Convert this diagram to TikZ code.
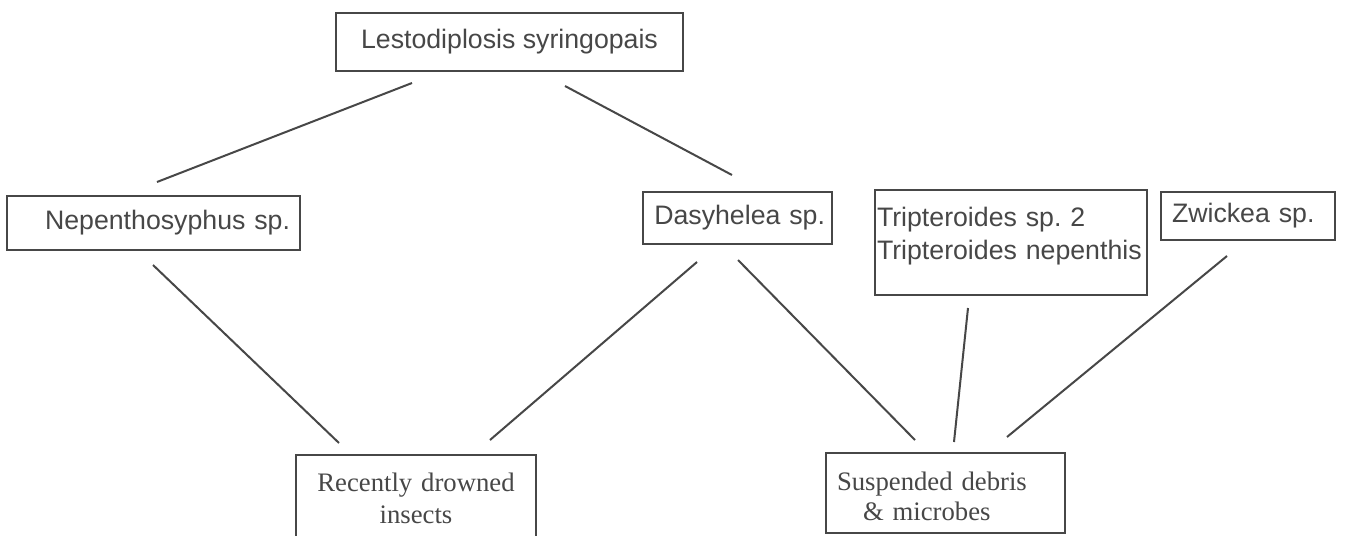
\documentclass[tikz,border=0pt]{standalone}
\usepackage{fontspec}
\setmainfont{Liberation Sans}
\newfontfamily\serifbox{Liberation Serif}
\definecolor{inkgray}{HTML}{474747}
\frenchspacing

\begin{document}
\begin{tikzpicture}[-,x=0.5pt,y=-0.5pt,line width=1pt,draw=inkgray,
    main node/.style={rectangle,draw=inkgray,text=inkgray,line width=1pt,outer sep=0pt,anchor=north west,font=\fontsize{13.35}{16.5}\selectfont},
    food node/.style={main node,inner ysep=0pt,font=\fontsize{13.35}{16}\serifbox}]

    \path[use as bounding box,clip] (0,0) rectangle (1346,536);
    \fill[white] (0,0) rectangle (1346,536);

    \node[main node, minimum width=173.5pt, minimum height=29pt] (1) at (336,13) {Lestodiplosis syringopais};
    \node[main node, text width=136.5pt, inner xsep=5pt, align=right, minimum height=27pt] (2) at (7,196) {Nepenthosyphus sp.};
    \node[main node, text width=87.5pt, inner xsep=3.5pt, align=right, minimum height=26pt] (3) at (643,192) {Dasyhelea sp.};
    \node[main node, text width=134pt, inner xsep=1pt, inner ysep=0pt, align=left, text height=18.3pt, text depth=34.2pt] (4) at (875,190) {Tripteroides sp. 2\\Tripteroides nepenthis};
    \node[main node, text width=76pt, inner xsep=5.5pt, align=left, minimum height=24pt] (5) at (1161,192) {Zwickea sp.};
    \node[food node, text width=110pt, inner xsep=5pt, align=center, text height=18.4pt, text depth=26.6pt] (6) at (296,455) {Recently drowned\\insects};
    \node[food node, text width=108.5pt, inner xsep=5.5pt, align=left, text height=18.9pt, text depth=21.1pt, font=\fontsize{13.35}{15}\serifbox] (7) at (826,453) {Suspended debris\\\hspace*{13pt}\& microbes};

    \draw[-] ([shift={(-97.5,12)}]1.south) to ([shift={(3.5,-14)}]2.north);
    \draw[-] ([shift={(55.5,15)}]1.south) to ([shift={(-5.5,-17)}]3.north);
    \draw[-] ([shift={(-0.5,15)}]2.south) to ([shift={(-77,-12)}]6.north);
    \draw[-] ([shift={(-40.5,18)}]3.south) to ([shift={(74,-15)}]6.north);
    \draw[-] ([shift={(0.5,16)}]3.south) to ([shift={(-30.5,-13)}]7.north);
    \draw[-] ([shift={(-43,13)}]4.south) to ([shift={(8.5,-11)}]7.north);
    \draw[-] ([shift={(-21,16)}]5.south) to ([shift={(61.5,-16)}]7.north);

\end{tikzpicture}
\end{document}
